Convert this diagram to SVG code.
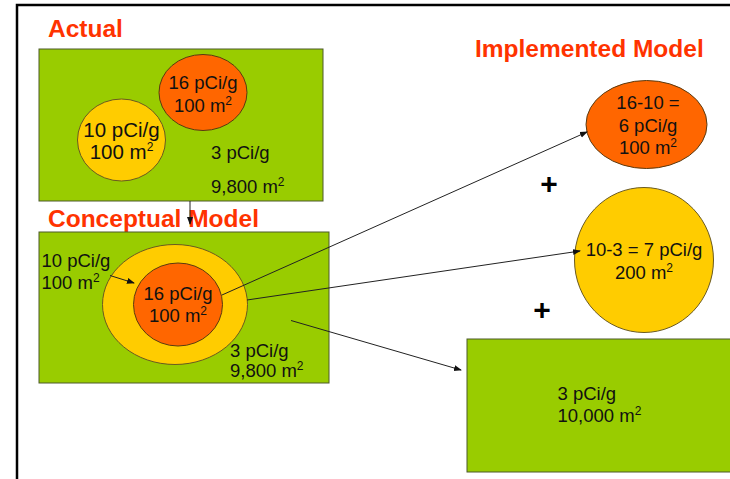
<svg xmlns="http://www.w3.org/2000/svg" width="730" height="479" viewBox="0 0 730 479">
<style>
.title{font-family:"Liberation Sans",Arial,sans-serif;font-weight:bold;font-size:24.5px;fill:#ff3300}
.t{font-family:"Liberation Sans",Arial,sans-serif;font-size:18.5px;fill:#111}
.big{font-size:20.5px}
.sup{font-size:12px}
.green{fill:#99cc00;stroke:#4d5a2a;stroke-width:1}
.orange{fill:#ff6600;stroke:#5a3a10;stroke-width:1}
.yellow{fill:#ffcc00;stroke:#6a5a20;stroke-width:1}
.plus{font-family:"Liberation Sans",Arial,sans-serif;font-weight:bold;font-size:30px;fill:#000}
.conn{stroke:#222;stroke-width:1;fill:none}
</style>
<defs>
<marker id="ah" markerWidth="8" markerHeight="8" refX="7" refY="4" orient="auto" markerUnits="userSpaceOnUse">
<path d="M0,1 L8,4 L0,7 Z" fill="#111"/>
</marker>
</defs>
<rect width="730" height="479" fill="#fff"/>
<path d="M17,479 V5 H730" fill="none" stroke="#000" stroke-width="2.5"/>

<g id="actual">
<text class="title" x="48" y="37">Actual</text>
<rect class="green" x="39" y="49" width="284" height="152"/>
<g id="actual-16">
<ellipse class="orange" cx="203" cy="92.5" rx="44" ry="38"/>
<text class="t" x="203" y="89" text-anchor="middle">16 pCi/g</text>
<text class="t" x="203" y="111.5" text-anchor="middle">100 m<tspan class="sup" dy="-7">2</tspan></text>
</g>
<g id="actual-10">
<ellipse class="yellow" cx="121.5" cy="140" rx="44" ry="41"/>
<text class="t big" x="121.5" y="136.5" text-anchor="middle">10 pCi/g</text>
<text class="t big" x="121.5" y="158.5" text-anchor="middle">100 m<tspan class="sup" dy="-8">2</tspan></text>
</g>
<text class="t" x="211" y="159">3 pCi/g</text>
<text class="t" x="211" y="192.5">9,800 m<tspan class="sup" dy="-7">2</tspan></text>
</g>

<g id="conceptual">
<text class="title" x="48" y="227">Conceptual Model</text>
<rect class="green" x="39" y="232" width="290" height="151"/>
<ellipse class="yellow" cx="175" cy="304.5" rx="72.5" ry="60"/>
<ellipse class="orange" cx="178" cy="304.5" rx="44.5" ry="41.5"/>
<text class="t" x="178" y="300" text-anchor="middle">16 pCi/g</text>
<text class="t" x="178" y="321.5" text-anchor="middle">100 m<tspan class="sup" dy="-7">2</tspan></text>
<text class="t" x="41.5" y="266.5">10 pCi/g</text>
<text class="t" x="41.5" y="289">100 m<tspan class="sup" dy="-7">2</tspan></text>
<text class="t" x="230" y="356.5">3 pCi/g</text>
<text class="t" x="230" y="377">9,800 m<tspan class="sup" dy="-7">2</tspan></text>
</g>

<g id="implemented">
<text class="title" x="475" y="57">Implemented Model</text>
<g id="impl-orange">
<ellipse class="orange" cx="646.5" cy="124.5" rx="60.5" ry="44"/>
<text class="t" x="648" y="109" text-anchor="middle">16-10 =</text>
<text class="t" x="648" y="131.5" text-anchor="middle">6 pCi/g</text>
<text class="t" x="648" y="153.5" text-anchor="middle">100 m<tspan class="sup" dy="-7">2</tspan></text>
</g>
<text class="plus" x="549" y="194" text-anchor="middle">+</text>
<g id="impl-yellow">
<ellipse class="yellow" cx="644" cy="260" rx="69.5" ry="72.5"/>
<text class="t" x="644" y="256" text-anchor="middle">10-3 = 7 pCi/g</text>
<text class="t" x="644" y="278.5" text-anchor="middle">200 m<tspan class="sup" dy="-7">2</tspan></text>
</g>
<text class="plus" x="542" y="319.5" text-anchor="middle">+</text>
<g id="impl-green">
<rect class="green" x="467" y="339" width="280" height="133"/>
<text class="t" x="557.5" y="400">3 pCi/g</text>
<text class="t" x="557.5" y="421.5">10,000 m<tspan class="sup" dy="-7">2</tspan></text>
</g>
</g>

<g id="connectors">
<line class="conn" x1="190" y1="201" x2="190" y2="224" marker-end="url(#ah)"/>
<line class="conn" x1="110" y1="275.5" x2="134" y2="283" marker-end="url(#ah)"/>
<line class="conn" x1="222" y1="295" x2="587" y2="132" marker-end="url(#ah)"/>
<line class="conn" x1="247" y1="300" x2="580" y2="251" marker-end="url(#ah)"/>
<line class="conn" x1="291" y1="320.5" x2="461" y2="370" marker-end="url(#ah)"/>
</g>
</svg>
